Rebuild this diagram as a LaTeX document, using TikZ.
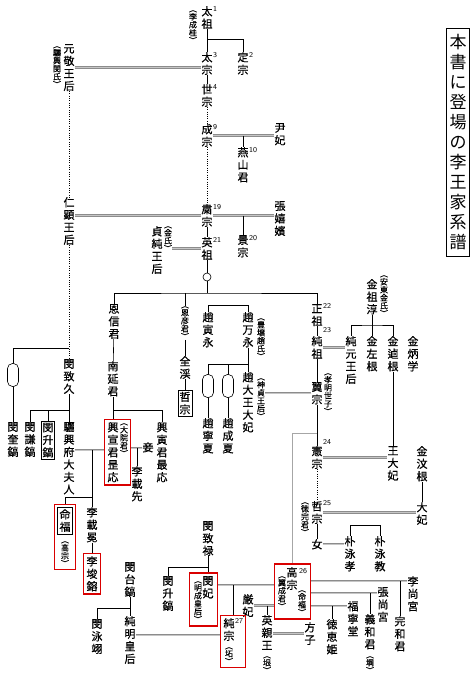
\documentclass[tikz,border=0pt]{standalone}
\usepackage{fontspec}
\newfontfamily\cjk{Noto Sans CJK JP}[FakeBold=0.6]
\newfontfamily\cjkan{Noto Sans CJK JP}[FakeBold=0.35]
\newfontfamily\cjkti{Noto Sans CJK JP}
\usetikzlibrary{fit,calc}
\makeatletter
\def\vt#1{\vt@a#1\vt@end}
\def\vt@a#1#2{#1\ifx#2\vt@end\expandafter\@gobble\else\expandafter\vt@b\fi#2}
\def\vt@b{\\\vt@a}
\makeatother
\begin{document}
\begin{tikzpicture}[x=1pt,y=-1pt,
  nm/.style={font=\fontsize{11}{12.5}\selectfont\cjk, align=center, inner sep=0pt, anchor=north},
  an/.style={font=\fontsize{8}{8}\selectfont\cjkan, align=center, inner sep=0pt},
  num/.style={font=\fontsize{7.5}{8}\selectfont\sffamily, inner sep=0pt, anchor=west},
  ln/.style={line width=0.6pt},
  dt/.style={line width=0.7pt, dash pattern=on 0.7pt off 1.6pt},
  sp/.style={draw=gray!90, line width=0.6pt, double=gray!45, double distance=1pt},
  redbox/.style={draw=red!85!black, line width=1.2pt, inner sep=2.5pt},
  bbox/.style={draw, line width=0.6pt, inner sep=1.5pt},
  capsule/.style={draw, line width=0.6pt, rounded corners=5pt, minimum width=11pt, minimum height=23pt, inner sep=0pt}]
\useasboundingbox (0,0) rectangle (474,678);
\fill[white] (0,0) rectangle (474,678);
% helper levels
\coordinate (y450) at (0,450);
\coordinate (y448) at (0,448);
\coordinate (y497) at (0,497);
\coordinate (y581) at (0,581);
\coordinate (y585) at (0,585);
\coordinate (y593) at (0,593);
\coordinate (y606) at (0,606);
\coordinate (y635) at (0,635);
% title
\node[draw, line width=0.6pt, inner xsep=3pt, inner ysep=6pt, font=\fontsize{17}{20}\selectfont\cjkti, align=center, anchor=north] (title) at (458,28) {\vt{本書に登場の李王家系譜}};
% main column
\node[nm] (taiso) at (207,6) {\vt{太祖}};
\node[an] (a_taiso) at (193,27) {\vt{︵李成桂︶}};
\node[nm] (teiso) at (243,52) {\vt{定宗}};
\node[nm] (taiso3) at (207,52) {\vt{太宗}};
\node[nm] (sejong) at (207,84) {\vt{世宗}};
\node[nm] (seiso) at (207,124) {\vt{成宗}};
\node[nm] (inhi) at (280,123) {\vt{尹妃}};
\node[nm] (enzan) at (243,147) {\vt{燕山君}};
\node[nm] (shukuso) at (207,204) {\vt{粛宗}};
\node[nm] (chou) at (280,201) {\vt{張嬉嬪}};
\node[nm] (keiso) at (243,235) {\vt{景宗}};
\node[nm] (eiso) at (207,237) {\vt{英祖}};
\node[nm] (teijun) at (157,226) {\vt{貞純王后}};
\node[an] (a_teijun) at (168,239) {\vt{︵金氏︶}};
\node[nm] (genkei) at (69,44) {\vt{元敬王后}};
\node[an] (a_genkei) at (57,67) {\vt{︵驪興閔氏︶}};
\node[nm] (jinken) at (69,197) {\vt{仁顕王后}};
\node[circle, draw, line width=0.6pt, minimum size=8pt, inner sep=0pt] (c1) at (207,277) {};
\coordinate (j_e) at (207,293);
% sons of Yeongjo line
\node[nm] (onshin) at (114,304) {\vt{恩信君}};
\node[an] (a_ongen) at (185,323) {\vt{︵恩彦君︶}};
\node[nm] (zenkei) at (185,356) {\vt{全渓}};
\node[nm, bbox, anchor=north] (tetsu) at (185,390) {\vt{哲宗}};
\node[nm] (choin) at (208,312) {\vt{趙寅永}};
\node[nm] (choman) at (248,312) {\vt{趙万永}};
\node[an] (a_choman) at (261,339) {\vt{︵豊壌趙氏︶}};
\node[nm] (chodai) at (248,372) {\vt{趙大王大妃}};
\node[an] (a_chodai) at (261,399) {\vt{︵神貞王后︶}};
\node[capsule] (ov1) at (208,386) {};
\node[capsule] (ov2) at (228,386) {};
\node[nm] (choneika) at (208,418) {\vt{趙寧夏}};
\node[nm] (chosei) at (228,418) {\vt{趙成夏}};
\node[nm] (seiso22) at (317,304) {\vt{正祖}};
\node[nm] (junso) at (317,336) {\vt{純祖}};
\node[nm] (yokuso) at (317,382) {\vt{翼宗}};
\node[an] (a_yokuso) at (328,394) {\vt{︵孝明世子︶}};
\node[nm] (kinsojun) at (372,279) {\vt{金祖淳}};
\node[an] (a_kinsojun) at (384,296) {\vt{︵安東金氏︶}};
\node[nm] (jungen) at (351,336) {\vt{純元王后}};
\node[nm] (kinsa) at (372,336) {\vt{金左根}};
\node[nm] (kinyu) at (393,336) {\vt{金逌根}};
\node[nm] (kinhei) at (413,336) {\vt{金炳学}};
\node[nm] (kenso) at (317,446) {\vt{憲宗}};
\node[nm] (oudaihi) at (393,446) {\vt{王大妃}};
\node[nm] (kinmon) at (422,446) {\vt{金汶根}};
\node[nm] (tetsuso) at (317,501) {\vt{哲宗}};
\node[an] (a_tetsuso) at (305,519) {\vt{︵徳完君︶}};
\node[nm] (daihi) at (422,502) {\vt{大妃}};
\node[nm] (onna) at (317,539) {\vt{女}};
\node[nm] (bokuko) at (350,536) {\vt{朴泳孝}};
\node[nm] (bokukyo) at (380,536) {\vt{朴泳教}};
% lower middle
\node[nm] (binchiroku) at (208,521) {\vt{閔致禄}};
\node[nm] (binsho2) at (168,576) {\vt{閔升鎬}};
\node[nm] (binhi) at (208,576) {\vt{閔妃}};
\node[an] (a_binhi) at (198,602) {\vt{︵明成皇后︶}};
\node[nm] (bintai) at (130,562) {\vt{閔台鎬}};
\node[nm] (binei) at (97,619) {\vt{閔泳翊}};
\node[nm] (junmei) at (130,616) {\vt{純明皇后}};
\node[nm] (junso27) at (229,618) {\vt{純宗}};
\node[an] (a_junso27) at (229,656) {\vt{︵坧︶}};
\node[nm] (genhi) at (248,594) {\vt{厳妃}};
\node[nm] (eishin) at (267,615) {\vt{英親王}};
\node[an] (a_eishin) at (267,665) {\vt{︵垠︶}};
\node[nm] (koso) at (292,567) {\vt{高宗}};
\node[an] (a_koso_l) at (282,593) {\vt{︵翼成君︶}};
\node[an] (a_koso_r) at (302,603) {\vt{︵命福︶}};
\node[nm] (houshi) at (310,622) {\vt{方子}};
\node[nm] (tokukei) at (332,619) {\vt{徳恵姫}};
\node[nm] (fukunei) at (353,601) {\vt{福寧堂}};
\node[nm] (giwa) at (370,614) {\vt{義和君}};
\node[an] (a_giwa) at (370,665) {\vt{︵堈︶}};
\node[nm] (chosho) at (383,587) {\vt{張尚宮}};
\node[nm] (kanwa) at (400,616) {\vt{完和君}};
\node[nm] (risho) at (413,576) {\vt{李尚宮}};
% left side
\node[nm] (binchikyu) at (69,359) {\vt{閔致久}};
\node[capsule] (ov3) at (13,375) {};
\node[nm] (binki) at (13,422) {\vt{閔奎鎬}};
\node[nm] (binken) at (30,422) {\vt{閔謙鎬}};
\node[nm, bbox, inner xsep=0.8pt, anchor=north] (binsho1) at (48,421) {\vt{閔升鎬}};
\node[nm] (reiko) at (69,422) {\vt{驪興府大夫人}};
\node[nm] (nanen) at (113,361) {\vt{南延君}};
\node[nm] (kosen) at (113,422) {\vt{興宣君昰応}};
\node[an] (a_kosen) at (124,440) {\vt{︵大院君︶}};
\node[nm] (koin) at (162,422) {\vt{興寅君最応}};
\node[nm] (sho) at (148,442) {\vt{妾}};
\node[nm] (risaisen) at (137,466) {\vt{李載先}};
\node[nm] (risaiben) at (92,507) {\vt{李載冕}};
\node[nm, bbox, inner sep=2pt, anchor=north] (meifuku) at (65,507) {\vt{命福}};
\node[an] (a_meifuku) at (65,554) {\vt{︵高宗︶}};
\node[nm] (rishun) at (92,556) {\vt{李埈鎔}};
% reign numbers
\node[num] (s1) at (213,9) {1};
\node[num] (s2) at (249,55) {2};
\node[num] (s3) at (213,55) {3};
\node[num] (s4) at (213,87) {4};
\node[num] (s9) at (213,127) {9};
\node[num] (s10) at (249,150) {10};
\node[num] (s19) at (213,207) {19};
\node[num] (s20) at (249,238) {20};
\node[num] (s21) at (213,240) {21};
\node[num] (s22) at (323,306) {22};
\node[num] (s23) at (323,330) {23};
\node[num] (s24) at (323,442) {24};
\node[num] (s25) at (323,503) {25};
\node[num] (s26) at (299,571) {26};
\node[num] (s27) at (235,621) {27};
% red boxes
\node[redbox, fit=(kosen)(a_kosen)] (kosenbox) {};
\node[redbox, fit=(meifuku)(a_meifuku)] (meifukubox) {};
\node[redbox, fit=(rishun)] (rishunbox) {};
\node[redbox, inner xsep=4pt, inner ysep=3pt, fit=(binhi)(a_binhi)] (binhibox) {};
\node[redbox, fit=(junso27)(a_junso27)(s27)] (junsobox) {};
\node[redbox, inner sep=3pt, fit=(koso)(a_koso_l)(a_koso_r)(s26)] (kosobox) {};
% ---- connectors ----
\coordinate (j_t1) at (207,39);
\draw[ln] (taiso) -- (taiso3);
\draw[ln] (j_t1) -| (teiso.north);
\draw[ln] (taiso3) -- (sejong);
\draw[dt] (sejong) -- (seiso);
\draw[sp] (seiso.east) -- (seiso.east -| inhi.west);
\draw[ln] (seiso.east -| enzan.north) -- (enzan.north);
\draw[dt] (seiso) -- (shukuso);
\draw[sp] (shukuso.east) -- (shukuso.east -| chou.west);
\draw[ln] (shukuso.east -| keiso.north) -- (keiso.north);
\draw[sp] (shukuso.west) -- (shukuso.west -| jinken.east);
\draw[sp] (genkei.east) -- (genkei.east -| taiso3.west);
\draw[dt] (genkei) -- (jinken);
\draw[dt] (jinken) -- (binchikyu);
\draw[ln] (shukuso) -- (eiso);
\draw[sp] (eiso.west -| a_teijun.east) -- (eiso.west);
\draw[ln] (eiso) -- (c1);
\draw[ln] (c1) -- (j_e);
\draw[ln] (onshin.north) |- (j_e) -| (seiso22.north);
\draw[ln] (j_e -| a_ongen.north) -- (a_ongen.north);
\draw[ln] (onshin) -- (nanen);
\draw[ln] (a_ongen) -- (zenkei);
\draw[ln] (zenkei) -- (tetsu);
\draw[ln] (choin.north) -- ++(0,-7) -| (choman.north);
\draw[ln] (choman) -- (chodai);
\coordinate (j_ov) at (248,364);
\draw[ln] (ov1.north) |- (j_ov);
\draw[ln] (ov2.north) -- (ov2.north |- j_ov);
\draw[ln] (ov1) -- (choneika);
\draw[ln] (ov2) -- (chosei);
\draw[sp] (yokuso.west) -- (yokuso.west -| a_chodai.east);
\draw[ln] (seiso22) -- (junso);
\draw[ln] (junso) -- (yokuso);
\draw[ln] (yokuso) -- (kenso);
\draw[sp] (junso.east) -- (junso.east -| jungen.west);
\coordinate (j_k) at (372,325);
\draw[ln] (kinsojun) -- (kinsa);
\draw[ln] (jungen.north) |- (j_k) -| (kinyu.north);
\draw[ln] (kinyu) -- (oudaihi);
\draw[sp] (kenso.east) -- (kenso.east -| oudaihi.west);
\draw[dt] (kenso) -- (tetsuso);
\draw[sp] (tetsuso.east) -- (tetsuso.east -| daihi.west);
\draw[ln] (kinmon) -- (daihi);
\draw[ln] (tetsuso) -- (onna);
\draw[sp] (onna.east) -- (onna.east -| bokuko.west);
\draw[ln] (bokuko.north) -- ++(0,-11) -| (bokukyo.north);
\coordinate (j_ad) at (317,433);
\draw[draw=gray!70, line width=1pt] (j_ad) -| (kosobox.north);
% Gojong family
\coordinate (j_cr) at (208,567);
\draw[ln] (binchiroku.south) -- (binchiroku.south |- binhibox.north);
\draw[ln] (binsho2.north) |- (j_cr);
\draw[sp] (binhibox.east |- y585) -- (kosobox.west |- y585);
\draw[ln] (junsobox.north |- y585) -- (junsobox.north);
\draw[sp] (genhi.east) -- (genhi.east -| kosobox.west);
\draw[ln] (genhi.east -| eishin.north) -- (eishin.north);
\draw[sp] (houshi.west -| eishin.east) -- (houshi.west);
\draw[sp] (kosobox.east |- y581) -- (risho.west |- y581);
\draw[sp] (kosobox.east |- y593) -- (chosho.west |- y593);
\draw[sp] (kosobox.east |- y606) -- (fukunei.west |- y606);
\draw[ln] (kanwa.north |- y581) -- (kanwa.north);
\draw[ln] (giwa.north |- y593) -- (giwa.north);
\draw[ln] (tokukei.north |- y606) -- (tokukei.north);
\coordinate (j_bt) at (130,608);
\draw[ln] (bintai) -- (junmei);
\draw[ln] (binei.north) |- (j_bt);
\draw[sp] (junmei.east |- y635) -- (junsobox.west |- y635);
% left family
\coordinate (j_bk) at (69,410);
\coordinate (j_ov3) at (69,348);
\draw[ln] (binchikyu) -- (reiko);
\draw[ln] (binken.north) |- (j_bk);
\draw[ln] (binsho1.north) -- (binsho1.north |- j_bk);
\draw[ln] (j_ov3) -| (ov3.north);
\draw[ln] (ov3) -- (binki);
\coordinate (j_n) at (113,410);
\draw[ln] (nanen.south) -- (j_n) -| (koin.north);
\draw[ln] (j_n) -- (j_n |- kosenbox.north);
\draw[sp] (reiko.east |- y450) -- (kosenbox.west |- y450);
\draw[ln] (risaiben.north |- y450) -- (risaiben.north);
\draw[ln] (meifukubox.north) |- (risaiben.north |- y497);
\draw[ln] (risaiben.south) -- (risaiben.south |- rishunbox.north);
\draw[sp] (kosenbox.east |- y448) -- (sho.west |- y448);
\draw[ln] (risaisen.north |- y448) -- (risaisen.north);
\end{tikzpicture}
\end{document}
